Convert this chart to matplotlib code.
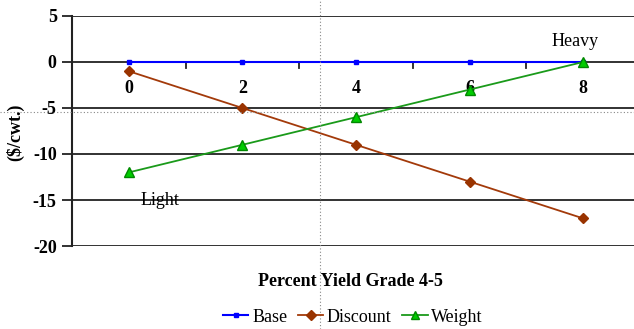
import matplotlib.pyplot as plt
from matplotlib.lines import Line2D

categories = ["0", "2", "4", "6", "8"]
base = [0, 0, 0, 0, 0]
discount = [-1, -5, -9, -13, -17]
weight = [-12, -9, -6, -3, 0]

plt.rcParams['font.family'] = ['Liberation Serif', 'DejaVu Serif']
plt.rcParams['axes.unicode_minus'] = False

fig = plt.figure(figsize=(6.34, 3.29), dpi=100)
ax = fig.add_axes([72 / 634, 1 - 246 / 329, (640 - 72) / 634, (246 - 16) / 329])

x = list(range(len(categories)))
ax.plot(x, base, color="#0000FF", lw=1.5, marker="s", ms=3, mec="#0000FF",
        label="Base", clip_on=False, zorder=4)
ax.plot(x, discount, color="#A33A0A", lw=1.3, marker="D", ms=5.5,
        mfc="#993300", mec="#993300", label="Discount", clip_on=False, zorder=4)
ax.plot(x, weight, color="#1A9A1A", lw=1.3, marker="^", ms=7,
        mfc="#00CC00", mec="#008800", label="Weight", clip_on=False, zorder=4)

ax.set_xlim(-0.5, 4.5)
ax.set_ylim(-20, 5)
ax.set_yticks([5, 0, -5, -10, -15, -20])
for yv in [5, -5, -10, -15, -20]:
    ax.axhline(yv, color="#222222", lw=1.3, zorder=1)

for s in ["top", "right", "bottom"]:
    ax.spines[s].set_visible(False)
ax.spines["left"].set_linewidth(1.5)
ax.spines["left"].set_color("#222222")

# category axis sitting on y = 0
ax.axhline(0, color="#222222", lw=1.3, zorder=1)
ax.set_xticks([])
for i in range(len(categories) - 1):
    ax.plot([i + 0.5, i + 0.5], [0, -0.6], color="#222222", lw=1.3, zorder=1)
for i, c in enumerate(categories):
    ax.text(i, -2.9, c, ha="center", va="center", fontsize=13, fontweight="bold")

ax.tick_params(axis="y", length=7, width=1.3, color="#222222", labelsize=13, pad=4)
for t in ax.get_yticklabels():
    t.set_fontweight("bold")

ax.text(3.93, 1.3, "Heavy", ha="center", va="bottom", fontsize=13)
ax.text(0.1, -15.0, "Light", ha="left", va="center", fontsize=13)

fig.text(15 / 634, 1 - 132 / 329, "($/cwt.)", rotation=90, ha="center",
         va="center", fontsize=13, fontweight="bold")
fig.text(350 / 634, 1 - 281 / 329, "Percent Yield Grade 4-5", ha="center",
         va="center", fontsize=13, fontweight="bold")

handles = [
    Line2D([], [], color="#0000FF", lw=1.5, marker="s", ms=3),
    Line2D([], [], color="#A33A0A", lw=1.3, marker="D", ms=5, mfc="#993300", mec="#993300"),
    Line2D([], [], color="#1A9A1A", lw=1.3, marker="^", ms=6, mfc="#00CC00", mec="#008800"),
]
fig.legend(handles, ["Base", "Discount", "Weight"], loc="center",
           bbox_to_anchor=(353 / 634, 1 - 317 / 329), ncol=3, frameon=False,
           fontsize=13, handlelength=1.4, handletextpad=0.2, columnspacing=0.6)

# dotted guide lines present in the reference image
fig.add_artist(Line2D([320 / 634, 320 / 634], [0, 1], color="#888888", lw=0.8,
                      ls=(0, (1, 2)), transform=fig.transFigure))
fig.add_artist(Line2D([0, 1], [1 - 112 / 329, 1 - 112 / 329], color="#888888", lw=0.8,
                      ls=(0, (1, 2)), transform=fig.transFigure))

fig.savefig("out.png", dpi=100)
